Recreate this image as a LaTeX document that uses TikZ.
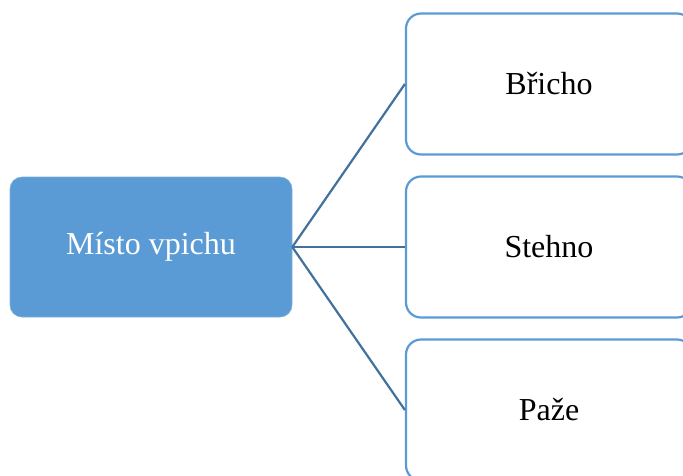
\documentclass[tikz,border=0pt]{standalone}
\usepackage{fontspec}
\setmainfont{Liberation Serif}
\definecolor{accent}{HTML}{5B9BD5}
\definecolor{linkblue}{HTML}{41719C}
\begin{document}
\begin{tikzpicture}[x=1pt,y=-1pt,
  rootbox/.style={rectangle, rounded corners=12pt, fill=accent, draw=accent!80!white, line width=0.6pt,
    minimum width=282pt, minimum height=140pt, text=white, font=\fontsize{32}{38}\selectfont, inner sep=0pt},
  leafbox/.style={rectangle, rounded corners=15pt, fill=white, draw=accent, line width=2.2pt,
    minimum width=286pt, minimum height=141pt, text=black, font=\fontsize{32}{38}\selectfont, inner sep=0pt},
  link/.style={draw=linkblue, line width=2.2pt}]
\useasboundingbox (0,0) rectangle (683,475);
\begin{scope}
\clip (0,0) rectangle (683,475);
\node[rootbox] (root) at (151,247) {Místo vpichu};
\node[leafbox] (a) at (549,84) {Břicho};
\node[leafbox] (b) at (549,247) {Stehno};
\node[leafbox] (c) at (549,410) {Paže};
\draw[link] (root.east) -- (a.west);
\draw[link] (root.east) -- (b.west);
\draw[link] (root.east) -- (c.west);
\end{scope}
\end{tikzpicture}
\end{document}
